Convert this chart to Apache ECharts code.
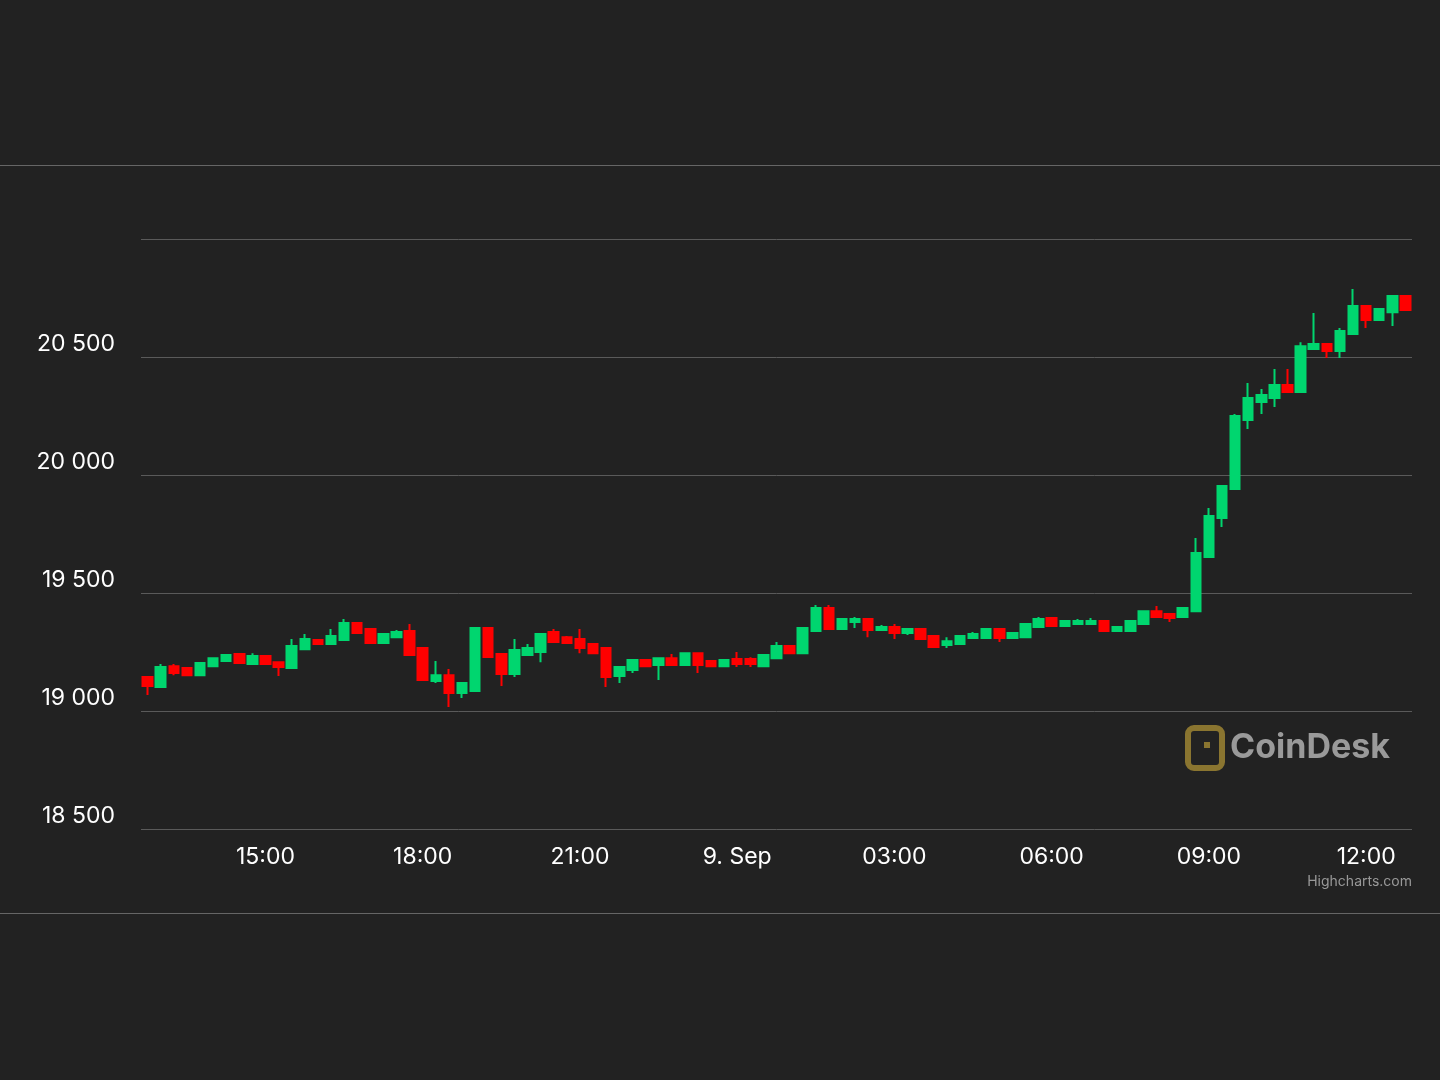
<!DOCTYPE html>
<html>
<head>
<meta charset="utf-8">
<script src="https://cdn.jsdelivr.net/npm/echarts@6/dist/echarts.min.js"></script>
<style>
  html, body { margin: 0; padding: 0; background: #222222; }
  #main { width: 1440px; height: 1080px; }
</style>
</head>
<body>
<div id="main"></div>
<script>
// 15-minute candles, 8 Sep 12:45 -> 9 Sep 12:45
var startHour = 12, startMin = 45;
var yTicks = [18500, 19000, 19500, 20000, 20500, 21000];

// [open, close, low, high]
var candles = [
  [19144, 19106, 19068, 19144], [19102, 19186, 19100, 19199], [19190, 19161, 19152, 19199],
  [19182, 19152, 19148, 19186], [19152, 19203, 19150, 19205], [19190, 19224, 19188, 19226],
  [19212, 19237, 19210, 19239], [19241, 19203, 19201, 19243], [19199, 19233, 19197, 19245],
  [19233, 19199, 19197, 19235], [19207, 19186, 19148, 19209], [19182, 19275, 19180, 19305],
  [19262, 19305, 19260, 19326], [19301, 19284, 19282, 19303], [19284, 19318, 19282, 19347],
  [19301, 19373, 19299, 19390], [19373, 19330, 19326, 19375], [19347, 19288, 19286, 19349],
  [19288, 19326, 19286, 19328], [19313, 19335, 19311, 19343], [19339, 19237, 19233, 19369],
  [19267, 19131, 19129, 19269], [19127, 19152, 19119, 19212], [19152, 19076, 19017, 19178],
  [19076, 19119, 19055, 19121], [19085, 19352, 19081, 19354], [19352, 19229, 19227, 19354],
  [19241, 19157, 19106, 19243], [19157, 19258, 19144, 19305], [19237, 19267, 19233, 19284],
  [19250, 19326, 19207, 19328], [19335, 19292, 19288, 19347], [19313, 19288, 19286, 19318],
  [19305, 19267, 19245, 19347], [19284, 19245, 19241, 19286], [19267, 19144, 19102, 19269],
  [19148, 19186, 19119, 19188], [19174, 19216, 19161, 19218], [19216, 19190, 19188, 19218],
  [19195, 19224, 19131, 19226], [19224, 19195, 19193, 19241], [19195, 19245, 19193, 19247],
  [19245, 19195, 19161, 19247], [19212, 19190, 19186, 19214], [19190, 19216, 19188, 19218],
  [19220, 19199, 19186, 19250], [19220, 19199, 19186, 19228], [19190, 19237, 19188, 19239],
  [19224, 19275, 19222, 19292], [19275, 19245, 19243, 19277], [19245, 19352, 19243, 19354],
  [19339, 19436, 19337, 19449], [19436, 19347, 19345, 19449], [19347, 19390, 19345, 19392],
  [19377, 19390, 19352, 19398], [19390, 19343, 19313, 19392], [19343, 19356, 19339, 19364],
  [19356, 19330, 19305, 19369], [19330, 19347, 19322, 19349], [19347, 19305, 19303, 19349],
  [19318, 19271, 19269, 19320], [19280, 19296, 19267, 19313], [19284, 19318, 19282, 19320],
  [19309, 19326, 19307, 19335], [19309, 19347, 19307, 19349], [19347, 19309, 19292, 19349],
  [19309, 19330, 19307, 19332], [19313, 19369, 19309, 19371], [19356, 19390, 19354, 19398],
  [19394, 19360, 19358, 19398], [19360, 19381, 19358, 19383], [19369, 19381, 19367, 19390],
  [19369, 19381, 19367, 19394], [19381, 19339, 19337, 19383], [19339, 19356, 19337, 19358],
  [19339, 19381, 19337, 19383], [19369, 19423, 19367, 19425], [19423, 19398, 19396, 19445],
  [19411, 19394, 19377, 19413], [19398, 19436, 19396, 19438], [19423, 19670, 19421, 19733],
  [19653, 19826, 19651, 19860], [19818, 19953, 19780, 19955], [19941, 20250, 19939, 20258],
  [20233, 20326, 20195, 20390], [20309, 20339, 20258, 20364], [20326, 20381, 20288, 20449],
  [20381, 20352, 20350, 20449], [20352, 20546, 20350, 20563], [20534, 20555, 20532, 20686],
  [20555, 20525, 20496, 20557], [20525, 20610, 20496, 20623], [20597, 20716, 20595, 20788],
  [20716, 20657, 20623, 20718], [20657, 20703, 20655, 20705], [20690, 20758, 20631, 20760],
  [20758, 20699, 20697, 20760]
];

var times = [];
for (var i = 0; i < candles.length; i++) {
  var m = startHour * 60 + startMin + i * 15;
  var hh = Math.floor(m / 60) % 24, mm = m % 60;
  times.push((hh < 10 ? '0' : '') + hh + ':' + (mm < 10 ? '0' : '') + mm);
}

function fmt(v) {
  var s = String(v);
  return s.length > 3 ? s.slice(0, s.length - 3) + ' ' + s.slice(-3) : s;
}

var myChart = echarts.init(document.getElementById('main'));
var option = {
  backgroundColor: '#222222',
  animation: false,
  grid: { left: 141, right: 28, top: 239, bottom: 251 },
  xAxis: {
    type: 'category',
    data: times,
    boundaryGap: true,
    axisLine: { show: false },
    axisTick: { show: false },
    axisLabel: {
      color: '#ffffff',
      fontSize: 23,
      fontFamily: 'Inter',
      margin: 17,
      interval: function (idx, val) {
        return val.slice(3) === '00' && parseInt(val, 10) % 3 === 0;
      },
      formatter: function (val) { return val === '00:00' ? '9. Sep' : val; }
    }
  },
  yAxis: {
    type: 'value',
    min: yTicks[0],
    max: yTicks[yTicks.length - 1],
    interval: 500,
    axisLine: { show: false },
    axisTick: { show: false },
    splitLine: { lineStyle: { color: '#5a5a5a', width: 1 } },
    axisLabel: {
      color: '#ffffff',
      fontSize: 23,
      fontFamily: 'Inter',
      margin: 26,
      verticalAlign: 'bottom',
      padding: [0, 0, 1, 0],
      formatter: function (v) { return v === 21000 ? '' : fmt(v); }
    }
  },
  series: [{
    type: 'candlestick',
    data: candles,
    barWidth: 10,
    itemStyle: {
      color: '#00d66f', color0: '#ff0000',
      borderColor: '#00d66f', borderColor0: '#ff0000',
      borderWidth: 2
    }
  }],
  graphic: [
    { type: 'rect', shape: { x: 0, y: 165, width: 1440, height: 1 }, style: { fill: '#666666' } },
    { type: 'rect', shape: { x: 0, y: 913, width: 1440, height: 1 }, style: { fill: '#666666' } },
    { type: 'rect', shape: { x: 1188, y: 728, width: 34, height: 40, r: 6 }, style: { fill: 'none', stroke: '#8a7530', lineWidth: 6 } },
    { type: 'rect', shape: { x: 1204, y: 742, width: 6, height: 6 }, style: { fill: '#8a7530' } },
    { type: 'text', style: { x: 1230, y: 748, text: 'CoinDesk', fill: '#9a9a9a', font: 'bold 34px Inter', verticalAlign: 'middle' } },
    { type: 'text', style: { x: 1412, y: 882, text: 'Highcharts.com', fill: '#999999', font: '14px Inter', align: 'right', verticalAlign: 'middle' } }
  ]
};
myChart.setOption(option);
</script>
</body>
</html>
